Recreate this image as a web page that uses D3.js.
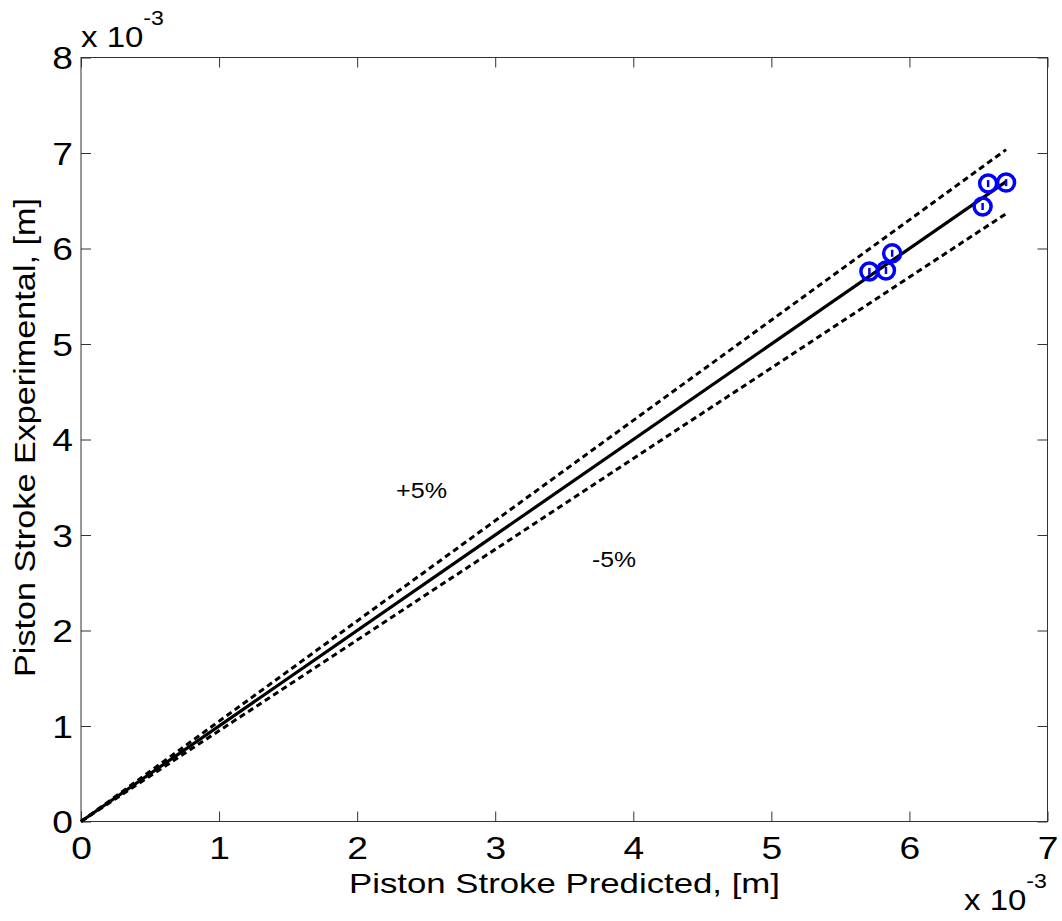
<!DOCTYPE html>
<html>
<head>
<meta charset="utf-8">
<script src="https://cdn.jsdelivr.net/npm/d3@7"></script>
<style>
  html, body { margin: 0; padding: 0; background: #fff; }
  svg { display: block; font-family: "Liberation Sans", Arial, sans-serif; }
</style>
</head>
<body>
<svg id="chart" width="1062" height="921"></svg>
<script>
// Piston stroke, predicted vs. experimental (values in units of 1e-3 m)
const predicted    = [5.71, 5.83, 5.875, 6.53, 6.57, 6.70];
const experimental = [5.76, 5.77, 5.95, 6.44, 6.68, 6.69];
const xTicks = [0, 1, 2, 3, 4, 5, 6, 7];
const yTicks = [0, 1, 2, 3, 4, 5, 6, 7, 8];
const bandFactors = [1.05, 0.95];   // +5% / -5% lines
const bandLabels = ["+5%", "-5%"];
const xLabel = "Piston Stroke Predicted, [m]";
const yLabel = "Piston Stroke Experimental, [m]";

const svg = d3.select("#chart");
const plotL = 81, plotR = 1047.5, plotT = 57.5, plotB = 821.5;
const widen = 1.2;   // horizontal stretch of the text glyphs

const x = d3.scaleLinear().domain([0, 7]).range([plotL, plotR]);
const y = d3.scaleLinear().domain([0, 8]).range([plotB, plotT]);

const axisColor = "#333";
const tickLen = 10;

// box
svg.append("rect")
  .attr("x", plotL).attr("y", plotT)
  .attr("width", plotR - plotL).attr("height", plotB - plotT)
  .attr("fill", "none").attr("stroke", axisColor).attr("stroke-width", 1);

// axes with inward ticks
const gx = svg.append("g").attr("transform", `translate(0,${plotB})`)
  .call(d3.axisBottom(x).tickValues(xTicks).tickFormat(d3.format("d"))
        .tickSizeInner(-tickLen).tickSizeOuter(0));
const gxt = svg.append("g").attr("transform", `translate(0,${plotT})`)
  .call(d3.axisTop(x).tickValues(xTicks).tickFormat("")
        .tickSizeInner(-tickLen).tickSizeOuter(0));
const gy = svg.append("g").attr("transform", `translate(${plotL},0)`)
  .call(d3.axisLeft(y).tickValues(yTicks).tickFormat(d3.format("d"))
        .tickSizeInner(-tickLen).tickSizeOuter(0));
const gyr = svg.append("g").attr("transform", `translate(${plotR},0)`)
  .call(d3.axisRight(y).tickValues(yTicks).tickFormat("")
        .tickSizeInner(-tickLen).tickSizeOuter(0));

[gx, gxt, gy, gyr].forEach(g => {
  g.select(".domain").remove();
  g.selectAll(".tick line").attr("stroke", axisColor).attr("stroke-width", 1);
  g.selectAll(".tick text")
    .attr("fill", "#000")
    .style("font-family", "'Liberation Sans', Arial, sans-serif")
    .style("font-size", "31px");
});
gx.selectAll(".tick text")
  .attr("dy", null).attr("y", 859 - plotB).attr("x", 0)
  .attr("transform", `scale(${widen},1)`);
gy.selectAll(".tick text")
  .attr("x", (73 - plotL) / widen).attr("dy", "0.36em")
  .attr("transform", `scale(${widen},1)`);

// exponent labels
function exponent(xPos, yBase, supRise) {
  const t = svg.append("text")
    .attr("transform", `translate(${xPos},${yBase}) scale(1.1,1)`)
    .style("font-size", "30px").attr("fill", "#000");
  t.append("tspan").text("x 10");
  t.append("tspan").attr("y", -supRise).style("font-size", "21px").text("-3");
}
exponent(81, 47, 22);
exponent(964, 910, 22);

// reference lines
const xMax = d3.max(predicted);
const line = d3.line().x(d => x(d[0])).y(d => y(d[1]));

svg.append("path")
  .attr("d", line([[0, 0], [xMax, xMax]]))
  .attr("fill", "none").attr("stroke", "#000").attr("stroke-width", 3.2);

bandFactors.forEach(f => {
  svg.append("path")
    .attr("d", line([[0, 0], [xMax, xMax * f]]))
    .attr("fill", "none").attr("stroke", "#000").attr("stroke-width", 3)
    .attr("stroke-dasharray", "6,4");
});

// band labels
svg.append("text").attr("x", 396).attr("y", 498)
  .attr("textLength", 51).attr("lengthAdjust", "spacingAndGlyphs")
  .style("font-size", "22px").attr("fill", "#000").text(bandLabels[0]);
svg.append("text").attr("x", 592).attr("y", 567)
  .attr("textLength", 44).attr("lengthAdjust", "spacingAndGlyphs")
  .style("font-size", "22px").attr("fill", "#000").text(bandLabels[1]);

// measured points
const pts = predicted.map((p, i) => [p, experimental[i]]);
const g = svg.append("g");
g.selectAll("circle").data(pts).join("circle")
  .attr("cx", d => x(d[0])).attr("cy", d => y(d[1])).attr("r", 8.5)
  .attr("fill", "none").attr("stroke", "#0000ff").attr("stroke-width", 3.5);
g.selectAll("line").data(pts).join("line")
  .attr("x1", d => x(d[0])).attr("x2", d => x(d[0]))
  .attr("y1", d => y(d[1]) - 3.5).attr("y2", d => y(d[1]) + 3.5)
  .attr("stroke", "#0000ff").attr("stroke-width", 2.5);

// axis titles
svg.append("text")
  .attr("x", 349).attr("y", 893)
  .attr("textLength", 431).attr("lengthAdjust", "spacingAndGlyphs")
  .style("font-size", "28px").attr("fill", "#000")
  .text(xLabel);
svg.append("text")
  .attr("transform", `translate(35,677) rotate(-90)`)
  .attr("textLength", 479).attr("lengthAdjust", "spacingAndGlyphs")
  .style("font-size", "30px").attr("fill", "#000")
  .text(yLabel);
</script>
</body>
</html>
